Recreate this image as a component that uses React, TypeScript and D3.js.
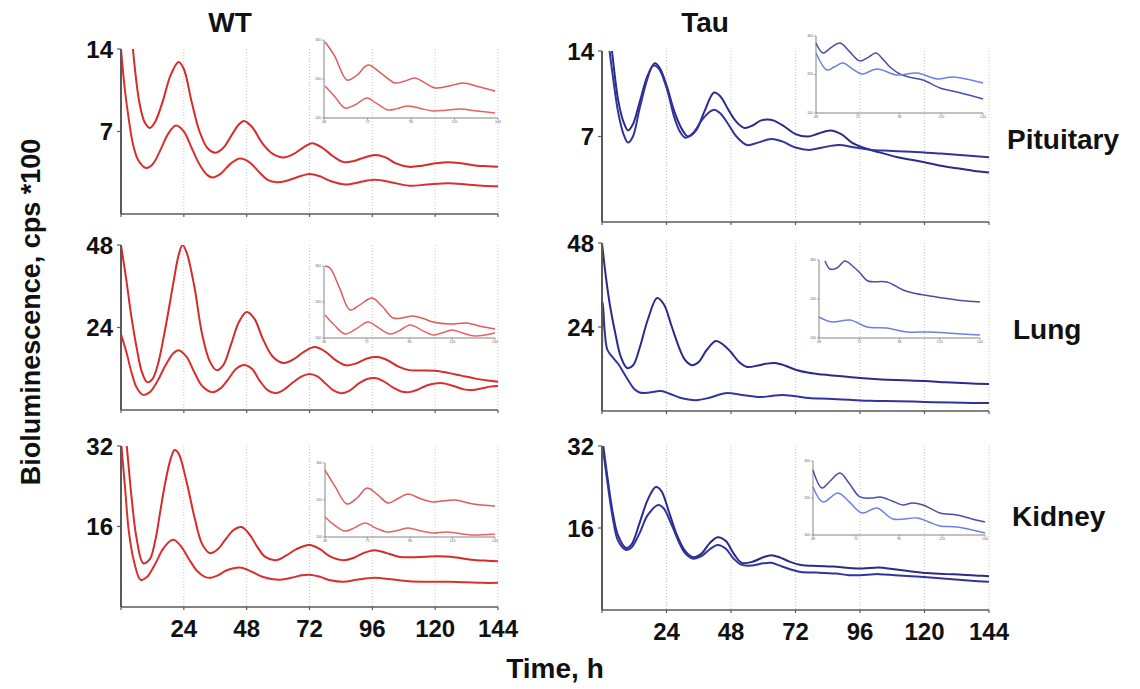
import React from 'react';
import * as d3 from 'd3';

type Pt = [number, number];

// ---------- categories / ticks ----------
const columnTitles = ['WT', 'Tau'];
const tissues = ['Pituitary', 'Lung', 'Kidney'];
const hourTicks = [0, 24, 48, 72, 96, 120, 144];
const yTop = [14, 48, 32];
const yMid = [7, 24, 16];
const insetXLabels = ['48', '72', '96', '120', '144'];
const insetYLabels = ['100', '200', '300'];

// ---------- main series (hour, cps*100) ----------
const wtPituitaryA: Pt[] = [[0,24],[3,18],[5,13],[7,9.5],[9,7.8],[11,7.3],[13,7.8],[16,9.6],[19,11.8],[22,12.9],[24,12.3],[27,9.5],[30,7],[33,5.6],[36,5.2],[39,5.6],[42,6.6],[45,7.6],[47,7.9],[50,7.4],[54,6.0],[58,5.1],[62,4.8],[66,5.1],[70,5.7],[73,6.0],[77,5.6],[81,4.9],[85,4.4],[89,4.5],[93,4.8],[97,5.0],[101,4.8],[105,4.3],[110,4.0],[115,4.1],[120,4.3],[125,4.4],[130,4.3],[136,4.1],[140,4.05],[144,4.0]];
const wtPituitaryB: Pt[] = [[0,14],[1.5,10.5],[3,8],[4.5,6],[6.5,4.6],[9.5,3.9],[12,4.2],[15,5.4],[18,6.8],[21,7.5],[24,7.0],[27,5.6],[30,4.2],[33,3.3],[35,3.1],[38,3.4],[42,4.3],[45.5,4.7],[49,4.4],[53,3.5],[56,2.9],[59.5,2.7],[63,2.8],[67,3.1],[72,3.4],[76,3.2],[80,2.8],[86,2.5],[91,2.7],[97,2.9],[103,2.7],[110,2.4],[117,2.5],[125,2.6],[132,2.5],[138,2.4],[144,2.35]];
const wtLungA: Pt[] = [[0,48],[2,38],[4,27],[6,18],[8,11],[10,8.1],[12,9],[14,13],[17,24],[20,37],[22,45],[23.5,48],[25,46],[28,36],[31,22],[34,14],[36.5,11.6],[39,13],[42,19],[45,25.5],[48,28.5],[51,26.5],[54,21],[58,15.5],[62,13.7],[66,14.8],[70,17],[74,18.3],[78,17],[82,14.5],[86,13],[90,13.6],[94,15],[98,15.4],[102,14.4],[106,12.6],[110,11.6],[115,11.5],[120,11.4],[125,10.8],[130,10],[135,9.2],[140,8.6],[144,8.2]];
const wtLungB: Pt[] = [[0,22],[2,17],[4,11],[6,6.5],[8.5,4.4],[11,5.2],[14,8.5],[17,13],[20,16.5],[22,17.4],[25,15.5],[28,11],[31,7],[35,5.2],[38,6.3],[41,9],[44,12],[47,13.1],[50,12],[53,8.5],[56,5.8],[59,4.9],[62,5.8],[66,8.2],[69,9.8],[72,10.5],[75,9.8],[78,7.8],[81,5.8],[84,4.9],[87,5.5],[91,7.8],[94,9],[97,9.3],[100,8.5],[104,6.5],[107,5.4],[110,5.2],[113,5.8],[117,7.2],[120,7.7],[123,7.8],[127,7],[131,6],[134,5.8],[138,6.3],[141,6.8],[144,7]];
const wtKidneyA: Pt[] = [[0,42],[2,33],[4,22],[6,13.5],[8.5,8.7],[11,9.5],[13,13],[15,19],[17,25],[19,29.5],[20.5,31.2],[22,30.5],[25,25],[28,18],[31,12.5],[34,10.7],[37,11.5],[40,13.5],[43,15.3],[46,15.9],[49,14.5],[52,12],[55,10],[59,9.3],[63,10.2],[67,11.5],[72,12.3],[76,11.5],[80,10],[85,9.3],[89,9.8],[93,10.8],[97,11.3],[101,10.8],[106,10],[111,9.9],[116,10],[121,10.1],[126,10],[131,9.6],[136,9.3],[140,9.2],[144,9.1]];
const wtKidneyB: Pt[] = [[0,33],[1.5,24],[3,15],[5,9],[7.5,5.4],[10,6],[13,8.5],[16,11.5],[19,13.2],[20.5,13.3],[23,12],[26,9.5],[29,7.2],[32,6],[34,5.8],[37,6.3],[40,7.2],[43,7.7],[46,7.8],[50,7],[54,6],[60,5.4],[65,5.8],[69,6.3],[72,6.4],[76,6],[80,5.3],[85,5],[90,5.4],[97,5.8],[103,5.5],[110,5.1],[118,5],[125,5],[132,4.9],[138,4.8],[144,4.8]];
const tauPituitaryA: Pt[] = [[0,22],[2,17],[3.7,14],[6,10],[8,8.2],[9.7,7.5],[11.5,8],[14,9.8],[17,12],[19.7,13.0],[21.5,12.6],[24,11.2],[27,9],[30,7.5],[32,7.0],[35,7.5],[38,9],[41.7,10.6],[44,10.3],[47,9.2],[50,8.2],[53,7.7],[56,7.9],[59,8.3],[61.4,8.4],[64,8.3],[68,7.8],[72,7.2],[76.7,7.0],[80,7.2],[85,7.5],[89,7.2],[93,6.5],[97,6.1],[100,5.9],[105,5.6],[110,5.3],[115,5.1],[120,4.9],[126,4.6],[132,4.4],[138,4.2],[144,4.05]];
const tauPituitaryB: Pt[] = [[0,20],[2,15.5],[4,12],[6,9],[8,7.2],[9.7,6.5],[11.5,7],[14,9.3],[17,11.8],[19,12.8],[21,12.6],[24,11],[27,8.5],[29,7.4],[31,6.9],[34,7.3],[37,8.3],[40,9.0],[41.7,9.2],[44,8.9],[47,8],[50,7],[54,6.3],[58,6.5],[63,6.8],[67,6.6],[72,6.1],[77,5.9],[82,6.1],[88,6.3],[94,6.1],[100,5.9],[105,5.85],[110,5.8],[115,5.75],[120,5.7],[126,5.6],[132,5.5],[138,5.4],[144,5.3]];
const tauLungA: Pt[] = [[0,48],[1.5,38],[3,30],[5,22],[7,15.5],[9.3,12.3],[11.5,13],[14,18],[17,26],[20.5,32.3],[23,30.5],[26,24],[29,17.5],[31,14.5],[33.5,13.1],[36,14],[39,17.5],[42.4,20],[45,19],[48,16.8],[51,14],[54,12.6],[58,13],[61,13.5],[64.4,13.7],[68,13],[72,11.8],[77,10.9],[82,10.4],[88,10],[96,9.4],[104,9],[112,8.8],[120,8.6],[128,8.2],[136,7.9],[144,7.7]];
const tauLungB: Pt[] = [[0,0],[0.3,31],[1,23],[2,17.5],[4,15.3],[6,13.5],[8,11],[10,8.5],[12,6.3],[14,5.3],[17,5.2],[20,5.6],[22,5.7],[25,5],[29,3.8],[35,3.1],[40,3.8],[46,5.1],[52,4.6],[59,4],[63,4.3],[67,4.6],[72,4.2],[77,3.7],[84,3.5],[92,3.2],[100,2.9],[110,2.8],[120,2.6],[130,2.4],[138,2.3],[144,2.3]];
const tauKidneyA: Pt[] = [[0,34],[2,26],[4,19],[6,14.5],[9,12.1],[11,12.8],[14,17],[17,21.5],[20,24],[22,23.3],[25,19],[28,14.5],[31,11.5],[34,10.3],[37,11],[40,13],[43,14.2],[46,13.5],[49,11],[52,9.2],[56,9.4],[60,10.3],[63,10.7],[66,10.3],[70,9.4],[74,8.8],[80,8.6],[86,8.5],[92,8.2],[97,8.1],[103,8.3],[108,8.0],[114,7.6],[121,7.2],[128,7],[134,6.9],[140,6.7],[144,6.6]];
const tauKidneyB: Pt[] = [[0,33],[2,25],[4,18],[6,13.5],[9,11.7],[11,12.2],[14,15],[17,18.5],[21,20.5],[23,19.8],[26,16.5],[29,12.8],[31,11],[34,10],[37,10.5],[40,11.8],[43,12.7],[46,12],[49,10],[52,8.8],[56,8.7],[60,9.1],[63,9.2],[67,8.5],[71,7.8],[74,7.4],[80,7.3],[87,7.1],[92,6.8],[96,6.8],[103,7.0],[109,6.8],[115,6.6],[121,6.4],[128,6.1],[135,5.8],[140,5.6],[144,5.5]];

// ---------- inset series (relative position 0-100, relative level 0-100) ----------
const insetWtPituitaryA: Pt[] = [[0.6,97.4],[6,80],[13.2,48.7],[19,55],[25.3,67.9],[33,57],[40.8,44.9],[46,47],[52.3,51.3],[58,45],[63.8,38.5],[72,41],[79.9,44.9],[89,40],[98.3,34.6]];
const insetWtPituitaryB: Pt[] = [[0.6,41],[6,28],[12.1,12.8],[18,17],[24.7,25.6],[30,19],[36.8,10.3],[42,12],[47.7,15.4],[55,12.5],[62.6,9],[70,10],[78.2,11.5],[88,9],[98.3,6.4]];
const insetWtLungA: Pt[] = [[0.6,100],[3.5,97.2],[9,70],[15.2,38.9],[21,46],[28.1,55.6],[34,44],[40.4,27.8],[46,28],[52,30.6],[58,27],[63.7,22.2],[73.7,19.4],[83.6,20.8],[92,16],[100,12.5]];
const insetWtLungB: Pt[] = [[0.6,31.9],[6,18],[12.3,5.6],[19,13],[25.7,22.2],[32,14],[38.6,5.6],[44,10],[50.3,18.1],[57,11],[63.7,4.2],[69,7],[74.9,11.1],[81,7],[88.3,2.8],[100,6.9]];
const insetWtKidneyA: Pt[] = [[0,90.5],[6,68],[12.9,44.6],[19,53],[24.7,66.2],[31,57],[37.1,45.9],[43,52],[48.8,58.1],[56,52],[63.5,47.3],[70,49],[76.5,50],[87.1,44.6],[100,41.9]];
const insetWtKidneyB: Pt[] = [[0,27],[5,17],[11.8,8.1],[17,12],[23.5,18.9],[30,12],[36.5,6.8],[43,9],[48.8,12.2],[56,8.5],[63.5,5.4],[71.8,6.8],[87.1,2.7],[100,4.1]];
const insetTauPituitaryA: Pt[] = [[0,90.9],[4.2,77.9],[9,85],[14.4,90.9],[20,80],[26.3,67.5],[31,72],[35.9,77.9],[40,70],[44.3,59.7],[50.3,50.6],[57,46],[64.1,42.9],[74.3,32.5],[84.4,27.3],[92,23],[100,18.2]];
const insetTauPituitaryB: Pt[] = [[0,77.9],[6.6,55.8],[11,60],[16.2,64.9],[22,57],[27.5,50.6],[36.5,57.1],[48.5,49.4],[60.5,51.9],[72.5,44.2],[82,46.8],[100,39]];
const insetTauLungA: Pt[] = [[3.7,98.7],[6.8,88.5],[11.2,89.7],[16.1,98.7],[21,92],[25.5,83.3],[30.4,73.1],[42.2,71.8],[52.2,61.5],[58.4,57.7],[68.9,53.8],[77,51.3],[88,48],[100,46.2]];
const insetTauLungB: Pt[] = [[0,26.9],[8.1,20.5],[19.3,23.1],[29.8,14.1],[42.2,12.8],[54.7,7.7],[68.9,7.7],[79.5,6.4],[100,3.8]];
const insetTauKidneyA: Pt[] = [[0,87.8],[5.2,63.5],[10,73],[15.7,83.8],[21,70],[27.3,51.4],[34.3,50],[39,51.4],[46,46],[52.3,40.5],[57.6,43.2],[64,40.5],[73.8,29.7],[83.7,27],[92,22],[100,17.6]];
const insetTauKidneyB: Pt[] = [[0,64.9],[5.8,44.6],[14.5,56.8],[21,45],[28.5,29.7],[37.2,36.5],[46.5,21.6],[60.5,23],[67,18],[73.8,12.2],[83.7,10.8],[100,2.7]];

const mainSeries: Pt[][][][] = [
  [[wtPituitaryA, wtPituitaryB], [wtLungA, wtLungB], [wtKidneyA, wtKidneyB]],
  [[tauPituitaryA, tauPituitaryB], [tauLungA, tauLungB], [tauKidneyA, tauKidneyB]],
];
const insetSeries: Pt[][][][] = [
  [[insetWtPituitaryA, insetWtPituitaryB], [insetWtLungA, insetWtLungB], [insetWtKidneyA, insetWtKidneyB]],
  [[insetTauPituitaryA, insetTauPituitaryB], [insetTauLungA, insetTauLungB], [insetTauKidneyA, insetTauKidneyB]],
];

// ---------- layout / style ----------
const W = 1140, H = 689;
const FONT = "'Liberation Sans', Arial, Helvetica, sans-serif";
const colX = [[121, 498], [602, 989]];
const rowY = [
  [[49, 214], [245, 410], [446, 607]],
  [[51, 222], [243, 411], [446, 610]],
];
const insetBox = [
  [[324, 498, 40, 118], [324, 495, 266, 338], [325, 495, 463, 537]],
  [[816, 983, 36, 113], [819, 980, 260, 338], [813, 985, 461, 535]],
];
const mainColors = [['#d62b2b', '#d83030'], ['#2b2b8c', '#33339c']];
const insetColors = [['#e05a5a', '#e36262'], ['#4d4da6', '#6c80e6']];
const AXIS = '#5a5a5a';

function Panel({ c, r }: { c: number; r: number }) {
  const [x0, x1] = colX[c];
  const [top, bottom] = rowY[c][r];
  const x = d3.scaleLinear().domain([0, 144]).range([x0, x1]);
  const y = d3.scaleLinear().domain([0, yTop[r]]).range([bottom, top]);
  const line = d3.line<Pt>().x(d => x(d[0])).y(d => y(d[1])).curve(d3.curveCatmullRom.alpha(0.5));
  const clipId = `clip-${c}-${r}`;
  const isBottom = r === 2;

  const [ix0, ix1, itop, ibot] = insetBox[c][r];
  const ixs = d3.scaleLinear().domain([0, 100]).range([ix0, ix1]);
  const iys = d3.scaleLinear().domain([0, 100]).range([ibot, itop]);
  const iline = d3.line<Pt>().x(d => ixs(d[0])).y(d => iys(d[1])).curve(d3.curveCatmullRom.alpha(0.5));
  const ixTicks = d3.range(insetXLabels.length).map(i => (i * 100) / (insetXLabels.length - 1));
  const iyTicks = d3.range(insetYLabels.length).map(i => (i * 100) / (insetYLabels.length - 1));

  return (
    <g>
      <defs>
        <clipPath id={clipId}>
          <rect x={x0 - 2} y={top} width={x1 - x0 + 6} height={bottom - top + 1} />
        </clipPath>
      </defs>
      {/* grid */}
      {hourTicks.filter(t => t > 0).map(t => (
        <line key={`g${t}`} x1={x(t)} x2={x(t)} y1={top} y2={bottom} stroke="#c4c4c4" strokeWidth={1} strokeDasharray="1,2" />
      ))}
      {/* inset */}
      <g>
        {iyTicks.map((v, i) => (
          <g key={`iy${i}`}>
            <line x1={ix0 - 2} x2={ix0} y1={iys(v)} y2={iys(v)} stroke="#777" strokeWidth={0.6} />
            <text x={ix0 - 3} y={iys(v)} fontSize={3.5} fill="#666" textAnchor="end" dominantBaseline="middle" fontFamily={FONT}>{insetYLabels[i]}</text>
          </g>
        ))}
        {ixTicks.map((v, i) => (
          <g key={`ix${i}`}>
            <line x1={ixs(v)} x2={ixs(v)} y1={ibot} y2={ibot + 2} stroke="#777" strokeWidth={0.6} />
            <text x={ixs(v)} y={ibot + 5} fontSize={3.5} fill="#666" textAnchor="middle" fontFamily={FONT}>{insetXLabels[i]}</text>
          </g>
        ))}
        <line x1={ix0} x2={ix0} y1={itop} y2={ibot} stroke="#666" strokeWidth={0.8} />
        <line x1={ix0} x2={ix1} y1={ibot} y2={ibot} stroke="#666" strokeWidth={0.8} />
        {insetSeries[c][r].map((s, i) => (
          <path key={`is${i}`} d={iline(s) || ''} fill="none" stroke={insetColors[c][i]} strokeWidth={1.5} />
        ))}
      </g>
      {/* main lines */}
      <g clipPath={`url(#${clipId})`}>
        {mainSeries[c][r].map((s, i) => (
          <path key={`s${i}`} d={line(s) || ''} fill="none" stroke={mainColors[c][i]} strokeWidth={2} strokeLinejoin="round" />
        ))}
      </g>
      {/* axes */}
      <line x1={x0} x2={x0} y1={top} y2={bottom} stroke={AXIS} strokeWidth={2} />
      <line x1={x0} x2={x1} y1={bottom} y2={bottom} stroke={AXIS} strokeWidth={1.5} />
      {hourTicks.map(t => (
        <line key={`xt${t}`} x1={x(t)} x2={x(t)} y1={bottom} y2={bottom + 3} stroke={AXIS} strokeWidth={1.2} />
      ))}
      {[yMid[r], yTop[r]].map(v => (
        <g key={`yt${v}`}>
          <line x1={x0 - 4} x2={x0} y1={y(v)} y2={y(v)} stroke={AXIS} strokeWidth={1.2} />
          <text x={x0 - 8} y={y(v)} dy="0.36em" textAnchor="end" fontFamily={FONT} fontWeight="bold" fontSize={24} fill="#111">{v}</text>
        </g>
      ))}
      {isBottom && hourTicks.filter(t => t > 0).map(t => (
        <text key={`xl${t}`} x={x(t)} y={bottom + 30} textAnchor="middle" fontFamily={FONT} fontWeight="bold" fontSize={24} fill="#111">{t}</text>
      ))}
    </g>
  );
}

export default function App() {
  return (
    <svg width={W} height={H} style={{ position: 'absolute', left: 0, top: 0, background: '#fff' }}>
      <rect x={0} y={0} width={W} height={H} fill="#fff" />
      {columnTitles.map((c, ci) => (
        <text key={c} x={ci === 0 ? 230 : 705} y={32} textAnchor="middle" fontFamily={FONT} fontWeight="bold" fontSize={28} fill="#111">{c}</text>
      ))}
      {[0, 1].map(c => [0, 1, 2].map(r => <Panel key={`${c}-${r}`} c={c} r={r} />))}
      {tissues.map((t, i) => (
        <text key={t} x={[1007, 1013, 1012][i]} y={[139, 329, 516][i]} dy="0.35em" fontFamily={FONT} fontWeight="bold" fontSize={28} fill="#111">{t}</text>
      ))}
      <text x={555} y={678} textAnchor="middle" fontFamily={FONT} fontWeight="bold" fontSize={28} fill="#111">Time, h</text>
      <text transform="translate(40,312) rotate(-90)" textAnchor="middle" fontFamily={FONT} fontWeight="bold" fontSize={27} fill="#111">Bioluminescence, cps *100</text>
    </svg>
  );
}
